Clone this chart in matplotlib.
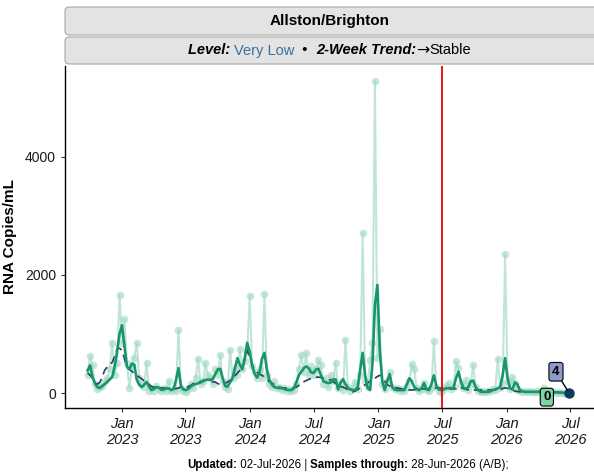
import matplotlib
matplotlib.use("Agg")
import matplotlib.pyplot as plt
import matplotlib.dates as mdates
from matplotlib.patches import FancyBboxPatch
import pandas as pd
import numpy as np

# ---------------- data ----------------
start_date = "2022-09-25"
n_weeks = 197
dates = pd.date_range(start_date, periods=n_weeks, freq="7D")

raw = [300, 630, 470, 150, 60, 100, 120, 200, 250, 400,
       850, 300, 500, 1660, 850, 1250, 500, 80, 450, 600,
       850, 250, 150, 100, 510, 40, 80, 30, 120, 60,
       30, 90, 40, 200, 30, 60, 40, 1070, 80, 40,
       20, 60, 150, 80, 250, 580, 150, 200, 510, 300,
       250, 150, 400, 300, 640, 200, 100, 60, 730, 250,
       400, 300, 750, 400, 550, 700, 1650, 450, 350, 250,
       400, 250, 1680, 300, 150, 100, 200, 80, 100, 50,
       80, 40, 60, 30, 50, 150, 400, 640, 350, 680,
       300, 450, 300, 400, 560, 475, 150, 250, 100, 300,
       200, 510, 80, 150, 50, 900, 100, 40, 80, 190,
       60, 300, 2710, 200, 100, 560, 850, 5290, 600, 1080,
       150, 60, 200, 350, 100, 60, 80, 40, 60, 30,
       100, 200, 490, 400, 80, 40, 60, 170, 50, 30,
       80, 880, 100, 40, 20, 60, 120, 170, 60, 100,
       540, 420, 150, 80, 220, 50, 150, 470, 100, 40,
       20, 30, 20, 40, 30, 60, 50, 580, 80, 150,
       2350, 200, 60, 270, 170, 50, 30, 20, 40, 20,
       30, 10, 20, 30, 15, 20, 80, 10, 20, 10,
       15, 5, 10, 8, 5, 6, 4]

smooth = [380, 470, 270, 160, 100, 85, 120, 150, 190, 230,
          270, 450, 700, 1000, 1150, 800, 450, 400, 500, 480,
          230, 140, 100, 140, 190, 110, 50, 70, 100, 90,
          55, 60, 80, 80, 50, 70, 220, 420, 120, 60,
          50, 70, 110, 140, 150, 165, 180, 200, 220, 230,
          220, 240, 320, 400, 410, 250, 120, 110, 180, 250,
          420, 590, 480, 400, 600, 850, 700, 460, 330, 260,
          350, 580, 680, 400, 220, 150, 100, 90, 85, 85,
          70, 55, 50, 50, 80, 180, 300, 360, 420, 450,
          420, 350, 340, 400, 410, 300, 200, 180, 170, 175,
          230, 230, 60, 180, 235, 150, 85, 60, 50, 50,
          100, 400, 680, 300, 85, 50, 500, 1500, 1830, 700,
          200, 50, 200, 320, 100, 60, 50, 50, 50, 50,
          150, 250, 200, 100, 70, 50, 80, 170, 60, 50,
          150, 300, 120, 60, 50, 60, 80, 85, 80, 85,
          250, 360, 200, 90, 70, 100, 200, 210, 100, 50,
          20, 20, 20, 20, 30, 50, 60, 80, 100, 300,
          590, 250, 80, 60, 180, 150, 50, 30, 20, 20,
          20, 20, 20, 20, 20, 20, 20, 20, 15, 15,
          10, 8, 6, 5, 4, 4, 4]

trend = [340, 300, 250, 200, 150, 180, 280, 390, 440, 480,
         520, 620, 750, 760, 720, 580, 440, 400, 370, 330,
         300, 270, 240, 210, 190, 150, 110, 100, 95, 90,
         85, 85, 80, 75, 70, 70, 75, 85, 95, 100,
         100, 110, 130, 160, 175, 185, 195, 210, 220, 215,
         200, 190, 185, 160, 140, 135, 160, 190, 215, 240,
         290, 340, 380, 420, 560, 720, 620, 480, 390, 350,
         320, 300, 270, 230, 190, 170, 140, 120, 100, 90,
         85, 85, 85, 85, 85, 100, 130, 160, 190, 210,
         230, 245, 255, 265, 270, 260, 250, 240, 230, 220,
         190, 160, 130, 110, 100, 80, 60, 40, 20, 30,
         60, 90, 110, 140, 170, 200, 220, 250, 280, 300,
         280, 200, 140, 120, 100, 90, 85, 80, 70, 60,
         55, 50, 50, 55, 60, 65, 70, 70, 70, 75,
         80, 85, 85, 85, 85, 85, 80, 75, 70, 70,
         75, 100, 90, 75, 60, 55, 50, 50, 50, 50,
         50, 50, 50, 50, 50, 50, 50, 50, 60, 75,
         85, 80, 60, 45, 35, 25, 20, 20, 20, 20,
         20, 20, 20, 20, 20, 20, 20, 20, 20, 20,
         18, 16, 14, 12, 10, 8, 6]

title_text = "Allston/Brighton"
level_text = "Very Low"
trend_text = "Stable"
last_raw_label = "4"
last_smooth_label = "0"
vline_date = "2025-07-01"
caption_parts = [("Updated:", "bold"), (" 02-Jul-2026 | ", "normal"),
                 ("Samples through:", "bold"), (" 28-Jun-2026 (A/B);", "normal")]
y_ticks = [0, 2000, 4000]

# ---------------- figure ----------------
plt.rcParams['font.family'] = ['Liberation Sans', 'DejaVu Sans']
W, H = 594, 475
fig = plt.figure(figsize=(W / 100, H / 100), dpi=100)

ax_left, ax_right, ax_top, ax_bot = 65, 594, 66, 408
ax = fig.add_axes([ax_left / W, 1 - ax_bot / H, (ax_right - ax_left) / W, (ax_bot - ax_top) / H])

raw_col = "#9fd8c2"
ax.plot(dates, raw, color=raw_col, lw=1.5, alpha=0.65, zorder=1)
ax.plot(dates, raw, 'o', color=raw_col, ms=5.5, alpha=0.6, mec='none', zorder=2)
ax.plot(dates, trend, color="#2b3a6e", lw=1.2, ls=(0, (5, 3)), zorder=3)
ax.plot(dates, smooth, color="#17966a", lw=1.9, zorder=4)
ax.plot(dates[-1], raw[-1], 'o', color="#0e3a5c", ms=6.5, zorder=6)
ax.axvline(pd.Timestamp(vline_date), color="#e8000b", lw=1.3, zorder=5)

# labels at the end
lab4_x = dates[-1] - pd.Timedelta(days=37)
ax.annotate(last_raw_label, xy=(dates[-1], raw[-1]), xytext=(lab4_x, 360),
            ha='center', va='center', fontsize=9.5, fontweight='bold', zorder=7,
            bbox=dict(boxstyle="round,pad=0.25,rounding_size=0.2", fc="#8e9acb", ec="black", lw=0.8),
            arrowprops=dict(arrowstyle='-', color='black', lw=1.0, shrinkA=0, shrinkB=2))
ax.text(dates[-1] - pd.Timedelta(days=63), -70, last_smooth_label, ha='center', va='center',
        fontsize=9.5, fontweight='bold', zorder=7,
        bbox=dict(boxstyle="round,pad=0.22,rounding_size=0.2", fc="#7fd4a6", ec="black", lw=0.8))

# axes limits
x0 = pd.Timestamp("2023-01-01")
px_per_day = (570 - 122) / 1277.0
ax.set_xlim(x0 + pd.Timedelta(days=(ax_left - 122) / px_per_day),
            x0 + pd.Timedelta(days=(ax_right - 122) / px_per_day))
ax.set_ylim(-254, 5540)

ax.set_yticks(y_ticks)
ax.set_yticklabels([str(v) for v in y_ticks], fontsize=10)
ax.set_ylabel("RNA Copies/mL", fontsize=11, fontweight='bold', labelpad=6)

ax.xaxis.set_major_locator(mdates.MonthLocator(bymonth=[1, 7]))
ax.xaxis.set_major_formatter(mdates.DateFormatter("%b\n%Y"))
for lbl in ax.get_xticklabels():
    lbl.set_fontstyle('italic')
    lbl.set_fontsize(10.5)
ax.tick_params(axis='both', length=3, width=0.8, color='#333333', labelcolor='#1a1a1a')

for s in ['top', 'right']:
    ax.spines[s].set_visible(False)
for s in ['left', 'bottom']:
    ax.spines[s].set_linewidth(1.0)
    ax.spines[s].set_color('black')

# ---------------- strips ----------------
def strip(y_top, y_bottom):
    p = FancyBboxPatch((ax_left / W, 1 - y_bottom / H), (W + 20 - ax_left) / W, (y_bottom - y_top) / H,
                       boxstyle="round,pad=0,rounding_size=0.008", transform=fig.transFigure,
                       fc="#e3e3e3", ec="#a8a8a8", lw=0.8, clip_on=False)
    fig.patches.append(p)

strip(7, 35)
strip(37, 64)
cx = (ax_left + 594) / 2 / W
fig.text(cx, 1 - 21 / H, title_text, ha='center', va='center', fontsize=11, fontweight='bold')

# second strip with mixed styles
parts = [("Level: ", dict(fontweight='bold', fontstyle='italic', color='black')),
         (level_text, dict(color='#3b6e9e')),
         ("  \u2022  ", dict(color='black', fontweight='bold', fontsize=10.5)),
         ("2-Week Trend:", dict(fontweight='bold', fontstyle='italic', color='black')),
         ("\u2192", dict(color='black', family='DejaVu Sans', fontsize=11.5)),
         (trend_text, dict(color='black'))]
fig.canvas.draw()
renderer = fig.canvas.get_renderer()
texts = []
total = 0
for s, kw in parts:
    kw = dict(kw)
    fs = kw.pop('fontsize', 10.5)
    t = fig.text(0, 1 - 50.5 / H, s, ha='left', va='center', fontsize=fs, **kw)
    bb = t.get_window_extent(renderer)
    texts.append((t, bb.width))
    total += bb.width
xpos = cx * W - total / 2
for t, w in texts:
    t.set_x(xpos / W)
    xpos += w

# caption
xpos = 187
for s, wt in caption_parts:
    t = fig.text(xpos / W, 1 - 465 / H, s, ha='left', va='center', fontsize=8.3, fontweight=wt)
    xpos += t.get_window_extent(renderer).width

fig.savefig("out.png", dpi=100)
